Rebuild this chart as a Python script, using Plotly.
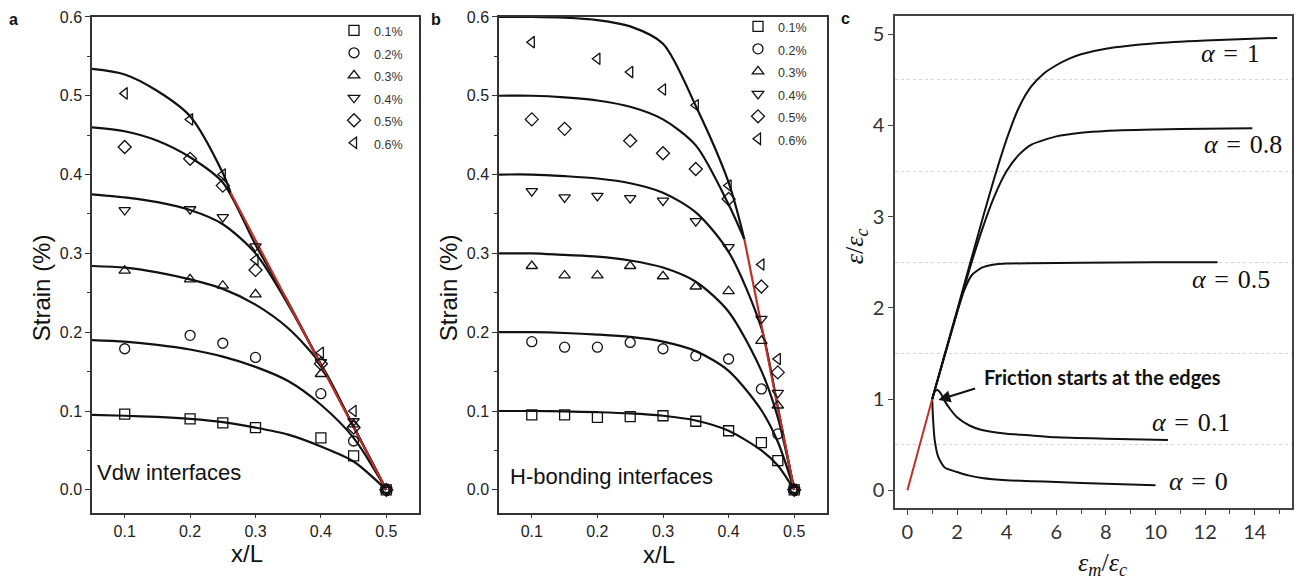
import plotly.graph_objects as go

# page offset of the plot div (browser default body margin)
OFF = 8
W, H = 1304 - OFF, 585 - OFF

# ---------------- Panel a (Vdw interfaces) ----------------
a_x_pts = [0.1, 0.2, 0.25, 0.3, 0.4, 0.45, 0.5]
a_pts_01 = [0.096, 0.090, 0.085, 0.079, 0.066, 0.043, 0.0]
a_pts_02 = [0.179, 0.196, 0.186, 0.168, 0.122, 0.062, 0.0]
a_pts_03 = [0.278, 0.267, 0.259, 0.248, 0.147, 0.083, 0.0]
a_pts_04 = [0.355, 0.356, 0.346, 0.309, 0.162, 0.087, 0.0]
a_pts_05 = [0.435, 0.420, 0.386, 0.279, 0.160, 0.079, 0.0]
a_pts_06 = [0.503, 0.470, 0.400, 0.292, 0.174, 0.100, 0.0]

a_x_fit = [0.05, 0.1, 0.15, 0.2, 0.25, 0.3, 0.35, 0.4, 0.45, 0.5]
a_fit_01 = [0.095, 0.094, 0.0925, 0.090, 0.086, 0.079, 0.070, 0.055, 0.036, 0.0]
a_fit_02 = [0.190, 0.188, 0.184, 0.178, 0.169, 0.156, 0.138, 0.108, 0.066, 0.0]
a_fit_03 = [0.284, 0.282, 0.276, 0.267, 0.255, 0.235, 0.205, 0.159, 0.080, 0.0]
a_fit_04 = [0.375, 0.371, 0.365, 0.355, 0.337, 0.300, 0.235, 0.159, 0.080, 0.0]
a_fit_05 = [0.460, 0.455, 0.443, 0.422, 0.390, 0.311, 0.238, 0.159, 0.080, 0.0]
a_x_fit_06 = [0.05, 0.1, 0.15, 0.2, 0.25, 0.262]
a_fit_06 = [0.534, 0.527, 0.506, 0.474, 0.402, 0.377]
a_red_x = [0.262, 0.5]
a_red_y = [0.377, 0.0]

# ---------------- Panel b (H-bonding interfaces) ----------------
b_x_pts = [0.1, 0.15, 0.2, 0.25, 0.3, 0.35, 0.4, 0.45, 0.475, 0.5]
b_pts_01 = [0.095, 0.095, 0.092, 0.093, 0.094, 0.087, 0.075, 0.060, 0.037, 0.0]
b_pts_02 = [0.188, 0.181, 0.181, 0.187, 0.179, 0.170, 0.166, 0.128, 0.071, 0.0]
b_pts_03 = [0.284, 0.272, 0.272, 0.284, 0.271, 0.258, 0.252, 0.189, 0.107, 0.0]
b_pts_04 = [0.379, 0.371, 0.373, 0.370, 0.367, 0.341, 0.308, 0.217, 0.123, 0.0]
b_pts_05 = [0.470, 0.458, None, 0.443, 0.427, 0.407, 0.369, 0.258, 0.149, 0.0]
b_pts_06 = [0.568, None, 0.547, 0.530, 0.508, 0.488, 0.386, 0.286, 0.166, 0.0]

b_x_fit = [0.05, 0.1, 0.15, 0.2, 0.25, 0.3, 0.35, 0.4, 0.45, 0.475, 0.5]
b_fit_01 = [0.100, 0.100, 0.0995, 0.0985, 0.097, 0.094, 0.088, 0.075, 0.050, 0.031, 0.0]
b_fit_02 = [0.200, 0.200, 0.199, 0.197, 0.194, 0.188, 0.176, 0.151, 0.101, 0.061, 0.0]
b_fit_03 = [0.300, 0.300, 0.298, 0.296, 0.291, 0.282, 0.264, 0.226, 0.151, 0.092, 0.0]
b_fit_04 = [0.400, 0.400, 0.398, 0.395, 0.389, 0.377, 0.352, 0.302, 0.205, 0.105, 0.0]
b_x_fit_hi = [0.05, 0.1, 0.15, 0.2, 0.25, 0.3, 0.35, 0.4, 0.424]
b_fit_05 = [0.500, 0.500, 0.498, 0.494, 0.486, 0.470, 0.437, 0.362, 0.318]
b_fit_06 = [0.600, 0.600, 0.599, 0.596, 0.588, 0.566, 0.487, 0.390, 0.318]
b_red_x = [0.424, 0.5]
b_red_y = [0.318, 0.0]

# ---------------- Panel c ----------------
c_a1_x = [1, 2, 3, 3.5, 4, 4.5, 5, 5.5, 6, 6.5, 7, 8, 10, 12, 14.9]
c_a1_y = [1, 1.97, 2.95, 3.42, 3.85, 4.2, 4.43, 4.57, 4.66, 4.73, 4.78, 4.84, 4.9, 4.93, 4.96]
c_a08_x = [1, 2, 2.5, 3, 3.5, 4, 4.5, 5, 6, 7, 8, 10, 12, 13.9]
c_a08_y = [1, 1.95, 2.42, 2.85, 3.22, 3.5, 3.68, 3.79, 3.88, 3.92, 3.94, 3.955, 3.965, 3.97]
c_a05_x = [1, 1.5, 2, 2.3, 2.6, 3, 3.5, 4, 5, 7, 10, 12.5]
c_a05_y = [1, 1.48, 1.95, 2.2, 2.36, 2.44, 2.475, 2.485, 2.49, 2.495, 2.5, 2.5]
c_a01_x = [1, 1.1, 1.2, 1.35, 1.5, 1.75, 2, 2.5, 3, 4, 5, 6, 8, 10.5]
c_a01_y = [1, 1.08, 1.1, 1.06, 0.98, 0.88, 0.8, 0.71, 0.66, 0.62, 0.6, 0.58, 0.565, 0.55]
c_a0_x = [1, 1.03, 1.1, 1.25, 1.5, 2, 2.5, 3, 4, 5, 6, 8, 10]
c_a0_y = [1, 0.8, 0.55, 0.36, 0.25, 0.2, 0.16, 0.135, 0.11, 0.1, 0.09, 0.07, 0.055]
c_red_x = [0, 1]
c_red_y = [0, 1]

legend_names = ["0.1%", "0.2%", "0.3%", "0.4%", "0.5%", "0.6%"]
symbols = ["square-open", "circle-open", "triangle-up-open",
           "triangle-down-open", "diamond-open", "triangle-left-open"]

BLACK = "#111111"
RED = "#c0302a"
AX = "#333333"
SANS = "Liberation Sans, Arial, sans-serif"
SERIF = "Liberation Serif, DejaVu Serif, serif"
CAL = "Lato, Liberation Sans, sans-serif"

fig = go.Figure()

# panel a
for xf, yf in [(a_x_fit, a_fit_01), (a_x_fit, a_fit_02), (a_x_fit, a_fit_03),
               (a_x_fit, a_fit_04), (a_x_fit, a_fit_05), (a_x_fit_06, a_fit_06)]:
    fig.add_trace(go.Scatter(x=xf, y=yf, mode="lines", line=dict(color=BLACK, width=2.2, shape="spline", smoothing=0.8),
                             showlegend=False, xaxis="x", yaxis="y", hoverinfo="skip"))
fig.add_trace(go.Scatter(x=a_red_x, y=a_red_y, mode="lines", line=dict(color=RED, width=2.2),
                         showlegend=False, xaxis="x", yaxis="y"))
for name, sym, ys in zip(legend_names, symbols, [a_pts_01, a_pts_02, a_pts_03, a_pts_04, a_pts_05, a_pts_06]):
    fig.add_trace(go.Scatter(x=a_x_pts, y=ys, mode="markers",
                             marker=dict(symbol=sym, size=10, color=BLACK, line=dict(width=1.3, color=BLACK)),
                             name='<span style="font-size:12.5px">' + name + '</span>',
                             xaxis="x", yaxis="y", legend="legend"))

# panel b
for xf, yf in [(b_x_fit, b_fit_01), (b_x_fit, b_fit_02), (b_x_fit, b_fit_03),
               (b_x_fit, b_fit_04), (b_x_fit_hi, b_fit_05), (b_x_fit_hi, b_fit_06)]:
    fig.add_trace(go.Scatter(x=xf, y=yf, mode="lines", line=dict(color=BLACK, width=2.2, shape="spline", smoothing=0.8),
                             showlegend=False, xaxis="x2", yaxis="y2", hoverinfo="skip"))
fig.add_trace(go.Scatter(x=b_red_x, y=b_red_y, mode="lines", line=dict(color=RED, width=2.2),
                         showlegend=False, xaxis="x2", yaxis="y2"))
for name, sym, ys in zip(legend_names, symbols, [b_pts_01, b_pts_02, b_pts_03, b_pts_04, b_pts_05, b_pts_06]):
    fig.add_trace(go.Scatter(x=b_x_pts, y=ys, mode="markers",
                             marker=dict(symbol=sym, size=10, color=BLACK, line=dict(width=1.3, color=BLACK)),
                             name='<span style="font-size:12.5px">' + name + '</span>',
                             xaxis="x2", yaxis="y2", legend="legend2"))

# panel c
for xc, yc in [(c_a1_x, c_a1_y), (c_a08_x, c_a08_y), (c_a05_x, c_a05_y), (c_a01_x, c_a01_y), (c_a0_x, c_a0_y)]:
    fig.add_trace(go.Scatter(x=xc, y=yc, mode="lines", line=dict(color=BLACK, width=2, shape="spline", smoothing=0.6),
                             showlegend=False, xaxis="x3", yaxis="y3", hoverinfo="skip"))
fig.add_trace(go.Scatter(x=c_red_x, y=c_red_y, mode="lines", line=dict(color=RED, width=2),
                         showlegend=False, xaxis="x3", yaxis="y3"))


def px_x(p):
    return (p - OFF) / W


def px_y_raw(p):
    return 1 - (p - OFF) / H


def px_y(t):
    # vertical correction measured from the rendered page
    p = (t - 7.2) / 0.985
    return 1 - (p - OFF) / H


def dom(t_bottom, t_top):
    return [max(0.0, px_y(t_bottom)), min(1.0, px_y(t_top))]


tickfont_ab = dict(family=SANS, size=16, color="#222")
common_x = dict(showline=True, mirror=True, linecolor=AX, linewidth=1.5, ticks="outside", ticklen=3,
                tickcolor=AX, showgrid=False, zeroline=False, tickfont=tickfont_ab,
                range=[0.05, 0.55], tickvals=[0.1, 0.2, 0.3, 0.4, 0.5], tickformat=".1f")
common_y = dict(showline=True, mirror=True, linecolor=AX, linewidth=1.5, ticks="outside", ticklen=5,
                tickcolor=AX, showgrid=False, zeroline=False, tickfont=tickfont_ab,
                range=[-0.03, 0.6], dtick=0.1, tickformat=".1f", ticklabeloverflow="allow",
                minor=dict(dtick=0.05, ticks="outside", ticklen=3, tickcolor=AX))

fig.update_layout(
    width=W, height=H, margin=dict(l=0, r=0, t=0, b=0),
    paper_bgcolor="white", plot_bgcolor="white",
    xaxis=dict(domain=[px_x(92), px_x(419)], anchor="y", **common_x),
    yaxis=dict(domain=dom(512, 16), anchor="x", **common_y),
    xaxis2=dict(domain=[px_x(499), px_x(827)], anchor="y2", **common_x),
    yaxis2=dict(domain=dom(512, 16), anchor="x2", **common_y),
    xaxis3=dict(domain=[px_x(895), px_x(1292)], anchor="y3", range=[-0.5, 15.5], dtick=2, tick0=0,
                showline=True, mirror=True, linecolor="#444", linewidth=1.5, ticks="outside", ticklen=5,
                tickcolor="#444", showgrid=False, zeroline=False,
                tickfont=dict(family=CAL, size=20, color="#333"),
                minor=dict(dtick=1, ticks="outside", ticklen=4, tickcolor="#444")),
    yaxis3=dict(domain=dom(507, 15), anchor="x3", range=[-0.2, 5.2], dtick=1, tick0=0,
                showline=True, mirror=True, linecolor="#444", linewidth=1.5, ticks="outside", ticklen=5,
                tickcolor="#444", showgrid=False, zeroline=False, ticklabeloverflow="allow",
                tickfont=dict(family=CAL, size=20, color="#333"),
                minor=dict(dtick=0.5, ticks="", showgrid=True, gridcolor="#d4d4d4", griddash="dot", gridwidth=1)),
    legend=dict(x=px_x(334), y=px_y_raw(6), xanchor="left", yanchor="top", bgcolor="rgba(0,0,0,0)",
                font=dict(family=SANS, size=15, color="#333"), tracegroupgap=0, itemwidth=30),
    legend2=dict(x=px_x(738), y=px_y_raw(2), xanchor="left", yanchor="top", bgcolor="rgba(0,0,0,0)",
                 font=dict(family=SANS, size=15, color="#333"), tracegroupgap=0, itemwidth=30),
)

ann = []


def txt(x, y, s, size, family=SANS, xanchor="center", yanchor="middle", angle=0, color="#111"):
    ann.append(dict(x=px_x(x), y=px_y(y), xref="paper", yref="paper", text=s, showarrow=False,
                    xanchor=xanchor, yanchor=yanchor, textangle=angle,
                    font=dict(family=family, size=size, color=color)))


# panel letters
txt(13, 19, "<b>a</b>", 16)
txt(436, 19, "<b>b</b>", 16)
txt(845, 18, "<b>c</b>", 16)
# axis titles a/b
txt(41, 287, "Strain (%)", 24, angle=-90)
txt(448, 287, "Strain (%)", 24, angle=-90)
txt(247, 552, "x/L", 24)
txt(659, 553, "x/L", 24)
# inner labels
txt(95, 471, "Vdw interfaces", 22, xanchor="left")
txt(508, 475, "H-bonding interfaces", 22, xanchor="left")
# panel c titles
txt(856, 245, "<i>ε</i>/<i>ε</i><sub><i>c</i></sub>", 26, family=SERIF, angle=-90)
txt(1102, 562, "<i>ε</i><sub><i>m</i></sub>/<i>ε</i><sub><i>c</i></sub>", 26, family=SERIF)
# alpha labels
sp = "\u2004"
txt(1230, 53, "<i>α</i>" + sp + "=" + sp + "1", 26, family=SERIF)
txt(1243, 143, "<i>α</i>" + sp + "=" + sp + "0.8", 26, family=SERIF)
txt(1231, 278, "<i>α</i>" + sp + "=" + sp + "0.5", 26, family=SERIF)
txt(1191, 421, "<i>α</i>" + sp + "=" + sp + "0.1", 26, family=SERIF)
txt(1198, 480, "<i>α</i>" + sp + "=" + sp + "0", 26, family=SERIF)
# friction note
txt(982, 376, "<b>Friction starts at the edges</b>", 20, family=CAL, xanchor="left")

ann.append(dict(x=1.25, y=0.99, xref="x3", yref="y3", ax=2.79, ay=1.12, axref="x3", ayref="y3",
                showarrow=True, arrowhead=2, arrowsize=1.2, arrowwidth=2, arrowcolor="#111", text=""))

fig.update_layout(annotations=ann)
fig.write_html("out.html")
